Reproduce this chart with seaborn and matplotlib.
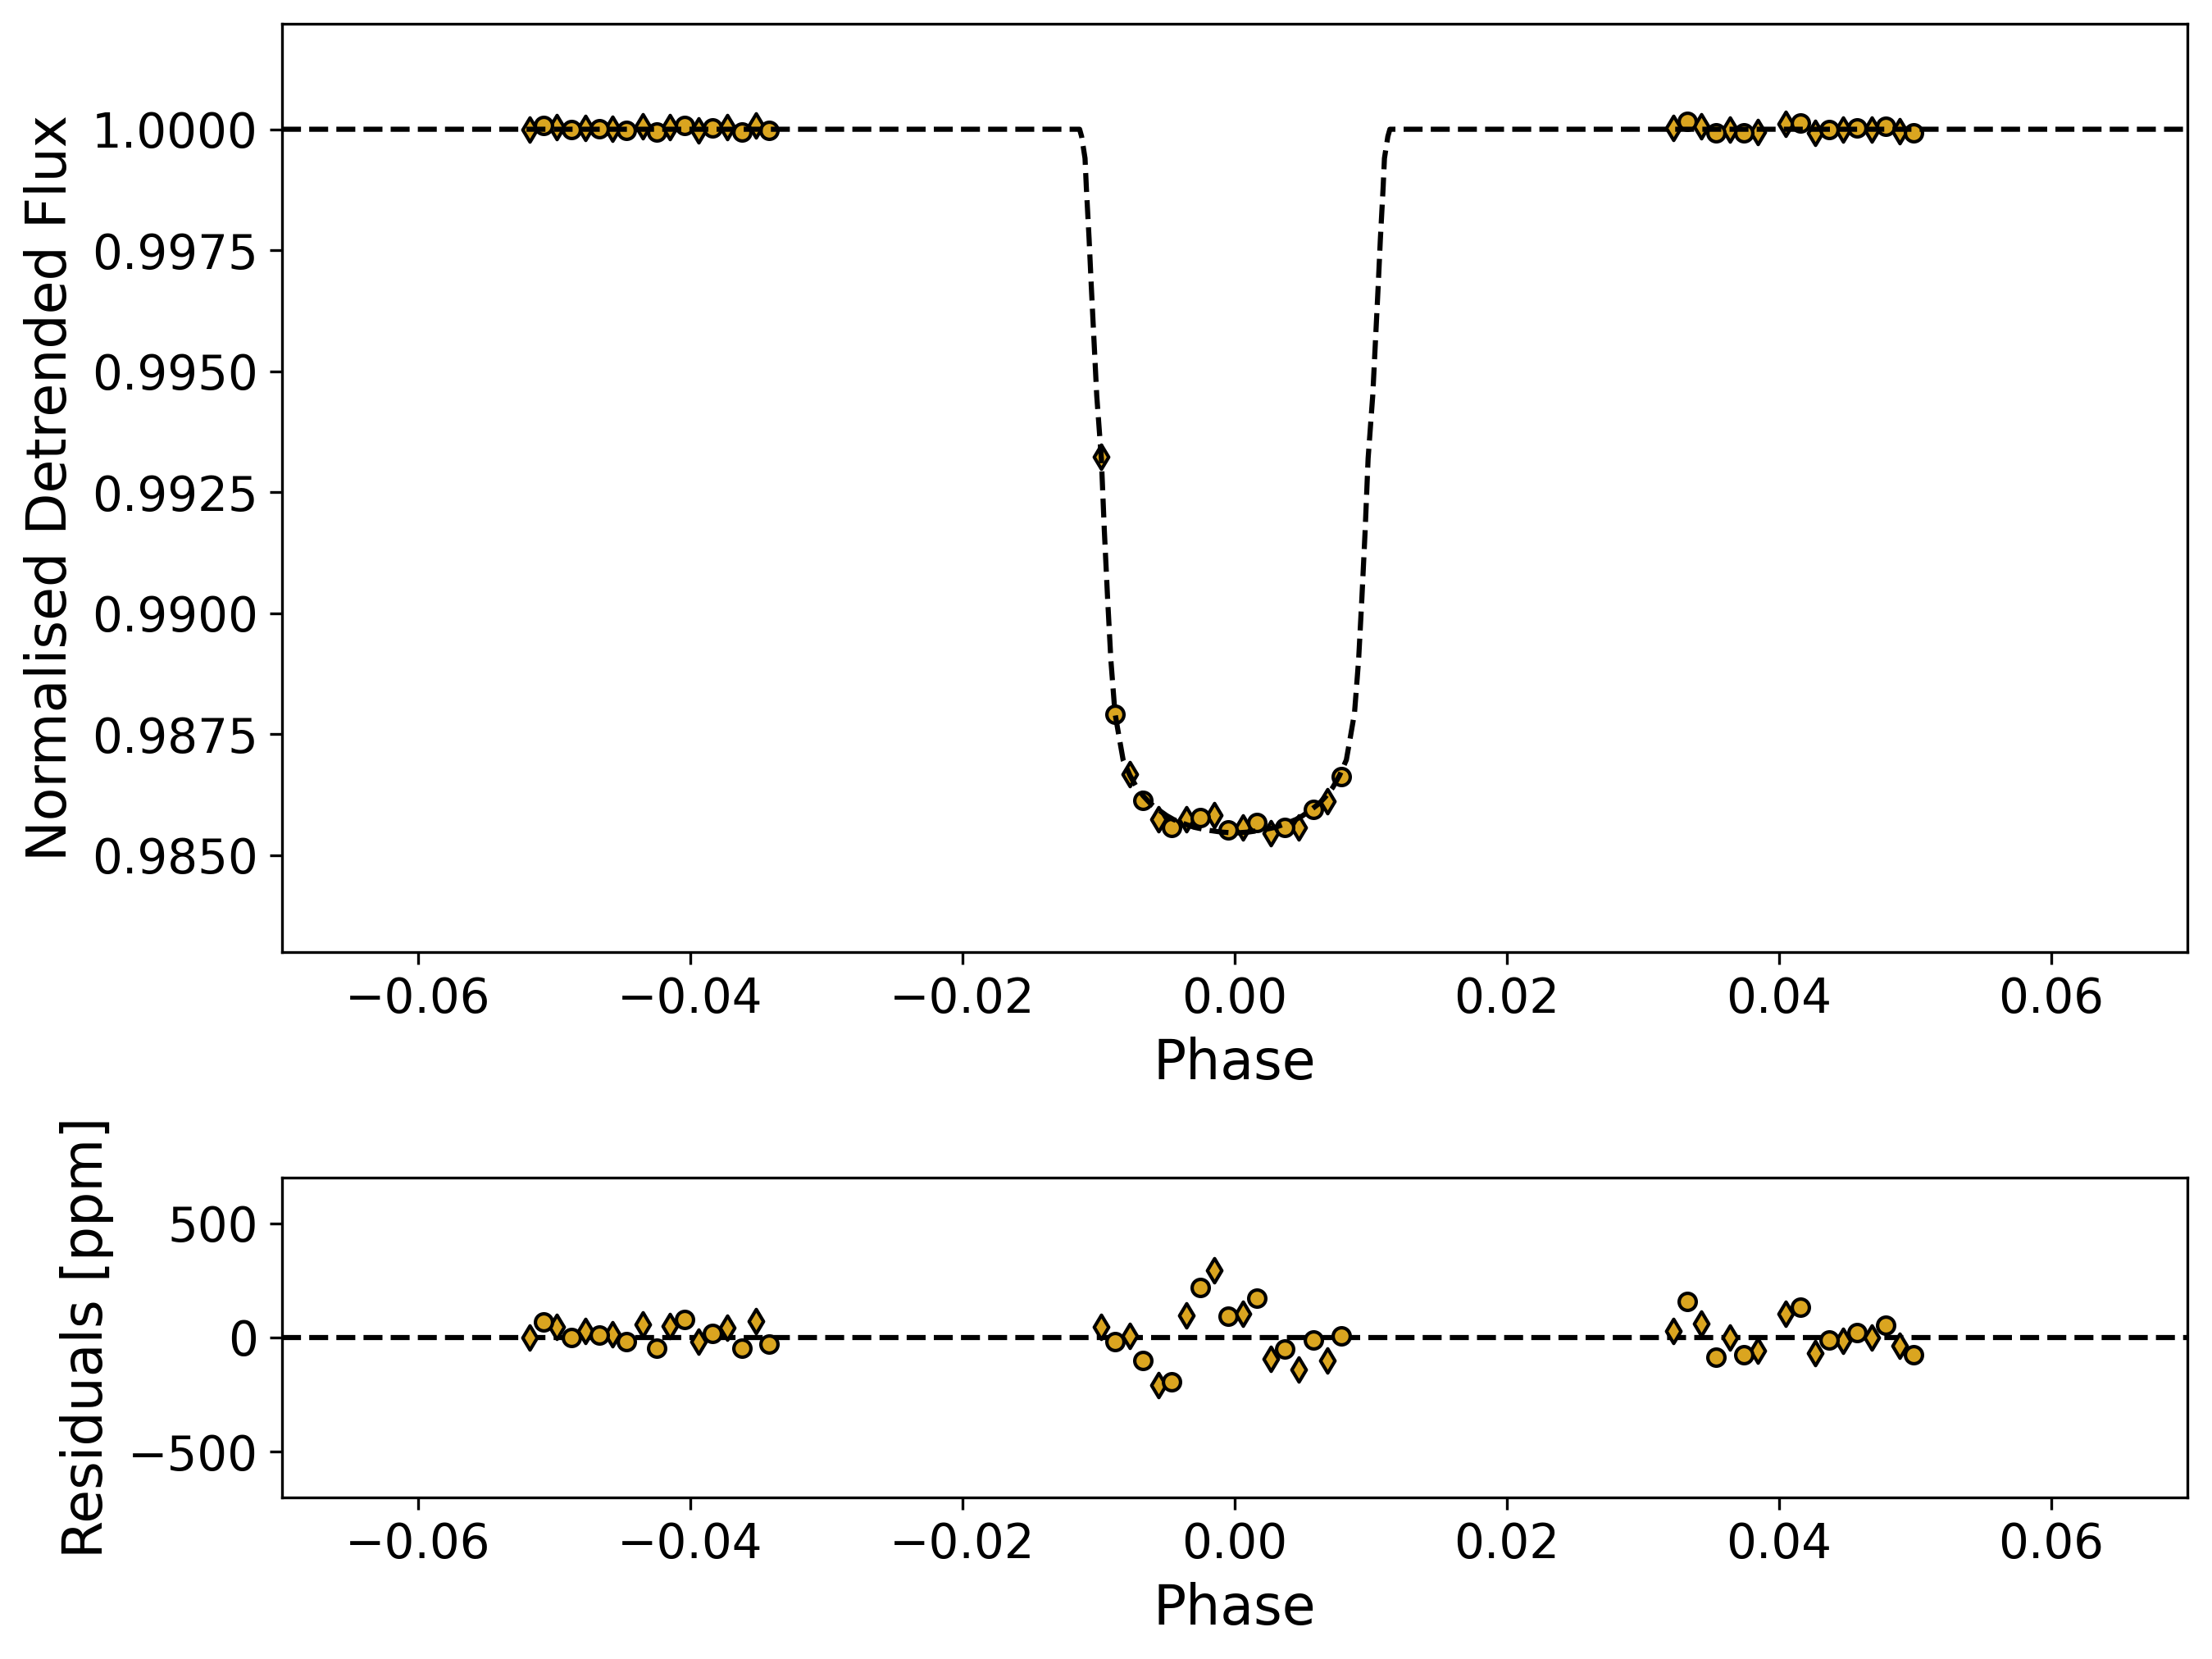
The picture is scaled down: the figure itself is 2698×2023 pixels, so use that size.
import numpy as np
import pandas as pd
import matplotlib
matplotlib.use("Agg")
import matplotlib.pyplot as plt
import seaborn as sns
from matplotlib.ticker import FormatStrFormatter

# ---------------- data ----------------
# instrument A (thin diamonds) and instrument B (circles), alternating in phase
phase_d = [-0.0518, -0.0498, -0.0477, -0.0457, -0.0435, -0.0415, -0.0394, -0.0373, -0.0352,
           -0.0098, -0.00773, -0.00562, -0.00357, -0.00149, 0.0006, 0.00267, 0.00472, 0.00683,
           0.03223, 0.03428, 0.03639, 0.03845, 0.0405, 0.04267, 0.04472, 0.04679, 0.04886]
flux_d = [0.99999, 1.00005, 1.00003, 1.00001, 1.00006, 1.00005, 0.99998, 1.00004, 1.00007,
          0.99323, 0.98668, 0.98575, 0.98575, 0.98583, 0.98557, 0.98546, 0.98558, 0.98611,
          1.00003, 1.00006, 1.00000, 0.99994, 1.00011, 0.99993, 0.99999, 1.00000, 0.99996]
resid_d = [-2, 48, 27, 13, 57, 49, -18, 43, 71,
           48, 8, -210, 95, 294, 104, -95, -140, -102,
           29, 61, 1, -58, 105, -67, -14, 1, -35]

phase_o = [-0.0508, -0.04875, -0.0467, -0.0447, -0.0425, -0.0404, -0.0384, -0.0362, -0.0342,
           -0.00878, -0.00673, -0.00462, -0.00251, -0.00046, 0.00165, 0.00367, 0.00578, 0.00783,
           0.03327, 0.03534, 0.03739, 0.04157, 0.04367, 0.04574, 0.04783, 0.0499]
flux_o = [1.00007, 1.00000, 1.00001, 0.99998, 0.99995, 1.00008, 1.00002, 0.99995, 0.99997,
          0.98792, 0.98614, 0.98558, 0.98578, 0.98553, 0.98568, 0.98558, 0.98594, 0.98663,
          1.00016, 0.99992, 0.99993, 1.00013, 0.99999, 1.00002, 1.00006, 0.99993]
resid_o = [67, 0, 10, -17, -48, 77, 18, -48, -30,
           -19, -101, -194, 220, 92, 173, -51, -12, 6,
           156, -85, -74, 132, -11, 23, 55, -74]

# transit model curve (vertices)
model_phase = [-0.0700, -0.0114, -0.01125, -0.0110, -0.0109, -0.0107, -0.01054, -0.01034,
               -0.01014, -0.0098, -0.00958, -0.00934, -0.0091, -0.0088, -0.0085, -0.0082,
               -0.0077, -0.0072, -0.0067, -0.0062, -0.0056, -0.0050, -0.0045, -0.0038,
               -0.0030, -0.0020, -0.0010, 0.0000,
               0.0010, 0.0020, 0.0030, 0.0038, 0.0045, 0.0050, 0.0056, 0.0062, 0.0067,
               0.0072, 0.0077, 0.0082, 0.0085, 0.0088, 0.0091, 0.00934, 0.00958, 0.0098,
               0.01014, 0.01034, 0.01054, 0.0107, 0.0109, 0.0110, 0.01125, 0.0114, 0.0700]
model_flux = [1.00000, 1.00000, 0.99985, 0.99940, 0.99878, 0.99773, 0.99676, 0.99563,
              0.99450, 0.99320, 0.99170, 0.99030, 0.98903, 0.98794, 0.98745, 0.98697,
              0.98665, 0.98640, 0.98622, 0.98607, 0.98594, 0.98582, 0.98574, 0.98566,
              0.98558, 0.98552, 0.98548, 0.98546,
              0.98548, 0.98552, 0.98558, 0.98566, 0.98574, 0.98582, 0.98594, 0.98607, 0.98622,
              0.98640, 0.98665, 0.98697, 0.98745, 0.98794, 0.98903, 0.99030, 0.99170, 0.99320,
              0.99450, 0.99563, 0.99676, 0.99773, 0.99878, 0.99940, 0.99985, 1.00000, 1.00000]

top_yticks = [0.9850, 0.9875, 0.9900, 0.9925, 0.9950, 0.9975, 1.0000]
x_ticks = [-0.06, -0.04, -0.02, 0.00, 0.02, 0.04, 0.06]
res_yticks = [-500, 0, 500]

# ---------------- tables ----------------
df_d = pd.DataFrame({"phase": phase_d, "flux": flux_d, "resid": resid_d})
df_o = pd.DataFrame({"phase": phase_o, "flux": flux_o, "resid": resid_o})
df_model = pd.DataFrame({"phase": model_phase, "flux": model_flux})

# ---------------- figure ----------------
plt.rcParams["font.family"] = ["DejaVu Sans"]
TICK_FS = 13.9
LAB_FS = 16.0
gold = "#DAA520"

fig = plt.figure(figsize=(2698 / 300, 2023 / 300), dpi=300)
ax1 = fig.add_axes([0.1275, 0.4261, 0.8614, 0.5596])
ax2 = fig.add_axes([0.1275, 0.0974, 0.8614, 0.1928])

mk = dict(color=gold, edgecolor="black", linewidth=1.0, s=25, legend=False)

# top panel: data then model on top
sns.scatterplot(data=df_d, x="phase", y="flux", marker="d", ax=ax1, zorder=2, **mk)
sns.scatterplot(data=df_o, x="phase", y="flux", marker="o", ax=ax1, zorder=2, **mk)
sns.lineplot(data=df_model, x="phase", y="flux", ax=ax1, color="black", lw=1.5,
             linestyle="--", sort=False, estimator=None, zorder=3)

ax1.set_xlim(-0.07, 0.07)
ax1.set_ylim(0.983, 1.00218)
ax1.set_yticks(top_yticks)
ax1.yaxis.set_major_formatter(FormatStrFormatter("%.4f"))
ax1.set_xticks(x_ticks)
ax1.set_xlabel("Phase", fontsize=LAB_FS)
ax1.set_ylabel("Normalised Detrended Flux", fontsize=LAB_FS)

# residual panel: zero line under data
ax2.axhline(0, color="black", lw=1.5, ls="--", zorder=1)
sns.scatterplot(data=df_d, x="phase", y="resid", marker="d", ax=ax2, zorder=2, **mk)
sns.scatterplot(data=df_o, x="phase", y="resid", marker="o", ax=ax2, zorder=2, **mk)
ax2.set_xlim(-0.07, 0.07)
ax2.set_ylim(-700, 700)
ax2.set_yticks(res_yticks)
ax2.set_xticks(x_ticks)
ax2.set_xlabel("Phase", fontsize=LAB_FS)
ax2.set_ylabel("Residuals [ppm]", fontsize=LAB_FS)

for ax in (ax1, ax2):
    ax.tick_params(labelsize=TICK_FS, direction="out", length=3.5, width=0.8)
    for sp in ax.spines.values():
        sp.set_linewidth(0.8)
        sp.set_color("black")
    ax.set_facecolor("white")

fig.savefig("out.png", dpi=300, facecolor="white")
